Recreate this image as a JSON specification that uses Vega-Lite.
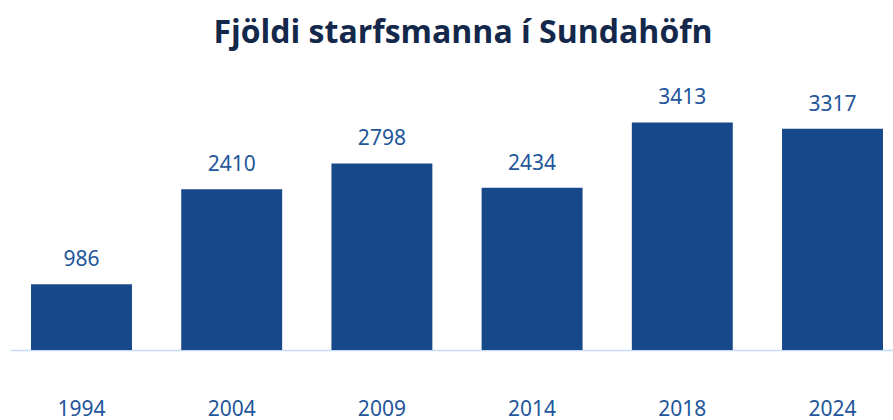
{
  "$schema": "https://vega.github.io/schema/vega-lite/v6.json",
  "autosize": {"type": "none"},
  "width": 894,
  "height": 264,
  "padding": {"left": 10, "top": 86, "right": 0, "bottom": 70},
  "background": "white",
  "title": {
    "text": "Fjöldi starfsmanna í Sundahöfn",
    "font": "Open Sans",
    "fontSize": 32,
    "fontWeight": "bold",
    "color": "#13284b",
    "anchor": "middle",
    "dx": 6,
    "offset": 36
  },
  "data": {
    "values": [
      {"year": "1994", "count": 986},
      {"year": "2004", "count": 2410},
      {"year": "2009", "count": 2798},
      {"year": "2014", "count": 2434},
      {"year": "2018", "count": 3413},
      {"year": "2024", "count": 3317}
    ]
  },
  "config": {"view": {"stroke": null}},
  "encoding": {
    "x": {
      "field": "year",
      "type": "nominal",
      "sort": null,
      "scale": {"paddingInner": 0.328, "paddingOuter": 0.14},
      "axis": {
        "title": null,
        "labelAngle": 0,
        "ticks": false,
        "grid": false,
        "domainColor": "#c6dcf2",
        "domainWidth": 1.5,
        "labelFont": "Noto Sans",
        "labelFontSize": 21,
        "labelColor": "#24569a",
        "labelPadding": 48
      }
    },
    "y": {
      "field": "count",
      "type": "quantitative",
      "scale": {"domain": [0, 3960], "nice": false},
      "axis": null
    }
  },
  "layer": [
    {"mark": {"type": "bar", "color": "#17488a"}},
    {
      "mark": {
        "type": "text",
        "baseline": "alphabetic",
        "dy": -18,
        "font": "Noto Sans",
        "fontSize": 21,
        "color": "#24569a"
      },
      "encoding": {"text": {"field": "count", "type": "quantitative", "format": "d"}}
    }
  ]
}
